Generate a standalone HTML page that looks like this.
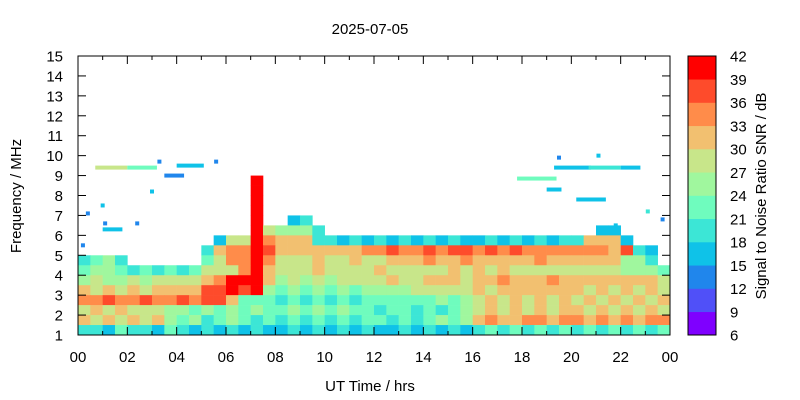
<!DOCTYPE html>
<html><head><meta charset="utf-8">
<style>
html,body{margin:0;padding:0;background:#fff;}
svg{display:block;font-family:"Liberation Sans",sans-serif;}
</style></head>
<body>
<svg id="chart" width="800" height="400">
  <text x="370" y="34" font-size="15" text-anchor="middle">2025-07-05</text>
  <g id="cells"></g>
  <g id="axes"></g>
  <text x="370" y="391" font-size="15" text-anchor="middle">UT Time / hrs</text>
  <text transform="translate(21,196) rotate(-90)" font-size="15" text-anchor="middle">Frequency / MHz</text>
  <g id="cbar"></g>
  <text transform="translate(766,196) rotate(-90)" font-size="15" text-anchor="middle">Signal to Noise Ratio SNR / dB</text>
</svg>
<script>
// color levels (SNR bins 6..42 step 3)
const levelColors = ["#7f00ff","#5050f8","#2086ec","#0fc2e8","#3ce6d6","#6ffcbe","#a0f79e","#c8e68a","#f2c070","#ff8c4a","#fe4b2b","#ff0000"];
const cbarTicks = [6,9,12,15,18,21,24,27,30,33,36,39,42];
const xTickLabels = ["00","02","04","06","08","10","12","14","16","18","20","22","00"];
const yTickLabels = [1,2,3,4,5,6,7,8,9,10,11,12,13,14,15];
// grid rows: lower frequency edge (MHz), each row 0.5 MHz; 48 half-hour columns (6 groups of 8)
const rowFreqs = [8.5,8,7.5,7,6.5,6,5.5,5,4.5,4,3.5,3,2.5,2,1.5,1];
const gridRows = [
["........","......b.","........","........","........","........"],
["........","......b.","........","........","........","........"],
["........","......b.","........","........","........","........"],
["........","......b.","........","........","........","........"],
["........","......b.",".34.....","........","........","........"],
["........","......b7","6664....","........","........","..33...."],
["........","...377b9","88844343","43434343","34343434","48883..."],
["........","..4899ba","88888889","9a99a9aa","9a9a9999","9998a43."],
["4564....","..5799b9","77787787","78889889","88888988","8888664."],
["56654545","457779b8","77787777","87777787","87877777","77776665"],
["67667677","7789bbb8","67676777","78778887","88988898","88888887"],
["87878788","88aabab6","56565656","66677777","87888888","87878787"],
["99a99a99","a9aa8555","45454545","55555656","78787878","78787878"],
["78787776","65656565","56565655","45545456","78787878","87878787"],
["87878786","56456545","45454545","54545656","89889989","98989899"],
["44354435","43434343","34343434","33434343","45454545","45454545"]
];
// sporadic segments
const segStart = [0.7, 2.0, 1.0, 4.0, 3.5, 19.3, 20.7, 22.0, 17.8, 19.0, 20.2];
const segEnd   = [2.0, 3.2, 1.8, 5.1, 4.3, 20.8, 22.0, 22.8, 19.4, 19.6, 21.4];
const segFreq  = [9.4, 9.4, 6.3, 9.5, 9.0, 9.4, 9.4, 9.4, 8.85, 8.3, 7.8];
const segLevel = [7, 5, 3, 3, 2, 3, 4, 3, 5, 3, 3];
// isolated points
const ptHour  = [0.2, 0.4, 1.0, 2.4, 3.3, 5.6, 19.5, 21.1, 21.8, 23.1, 23.7, 3.0, 1.1];
const ptFreq  = [5.5, 7.1, 7.5, 6.6, 9.7, 9.7, 9.9, 10.0, 6.5, 7.2, 6.8, 8.2, 6.6];
const ptLevel = [2, 2, 3, 2, 2, 2, 2, 3, 3, 4, 2, 3, 2];

const X0=78, X1=670, Y0=335, Y1=56;
const xs = h => X0 + h*(X1-X0)/24;
const ys = f => Y0 - (f-1)*(Y0-Y1)/14;
const NS="http://www.w3.org/2000/svg";
function mk(tag, attrs, parent){const e=document.createElementNS(NS,tag);for(const k in attrs)e.setAttribute(k,attrs[k]);parent.appendChild(e);return e;}
const lvl = ch => ch==='.'?-1:parseInt(ch,16);

const cells=document.getElementById('cells');
rowFreqs.forEach((f,ri)=>{
  const row=gridRows[ri].join('');
  for(let c=0;c<48;c++){
    const L=lvl(row[c]||'.');
    if(L<0||isNaN(L))continue;
    const x=xs(c/2), w=xs((c+1)/2)-x, y=ys(f+0.5), h=ys(f)-y;
    const r=mk('rect',{x:x,y:y,width:w+0.3,height:h+0.3,fill:levelColors[Math.min(L,11)]},cells);
    
    
  }
});
segStart.forEach((s,i)=>{
  const r=mk('rect',{x:xs(s),y:ys(segFreq[i])-2,width:xs(segEnd[i])-xs(s),height:4,fill:levelColors[segLevel[i]]},cells);
  
  
});
ptHour.forEach((h,i)=>{
  const r=mk('rect',{x:xs(h)-2,y:ys(ptFreq[i])-2,width:4,height:4,fill:levelColors[ptLevel[i]]},cells);
  
  
});

const ax=document.getElementById('axes');
mk('rect',{x:X0,y:Y1,width:X1-X0,height:Y0-Y1,fill:'none',stroke:'#000','stroke-width':1},ax);
for(let h=0;h<=24;h++){
  const len=(h%2===0)?8:4;
  mk('line',{x1:xs(h),x2:xs(h),y1:Y0,y2:Y0-len,stroke:'#000'},ax);
  mk('line',{x1:xs(h),x2:xs(h),y1:Y1,y2:Y1+len,stroke:'#000'},ax);
}
xTickLabels.forEach((t,i)=>{
  const e=mk('text',{x:xs(i*2),y:362,'font-size':15,'text-anchor':'middle'},ax);
  e.textContent=t;
  
  
});
yTickLabels.forEach(f=>{
  mk('line',{x1:X0,x2:X0+8,y1:ys(f),y2:ys(f),stroke:'#000'},ax);
  mk('line',{x1:X1,x2:X1-8,y1:ys(f),y2:ys(f),stroke:'#000'},ax);
  const e=mk('text',{x:63,y:ys(f)+5.5,'font-size':15,'text-anchor':'end'},ax);
  e.textContent=f;
  
  
});

const cb=document.getElementById('cbar');
const CX=688,CW=28;
const cy=v=>Y0-(v-6)*(Y0-Y1)/36;
levelColors.forEach((col,i)=>{
  const r=mk('rect',{x:CX,y:cy(cbarTicks[i+1]),width:CW,height:cy(cbarTicks[i])-cy(cbarTicks[i+1])+0.3,fill:col},cb);
  
  
});
mk('rect',{x:CX,y:Y1,width:CW,height:Y0-Y1,fill:'none',stroke:'#000'},cb);
cbarTicks.forEach(v=>{
  const e=mk('text',{x:730,y:cy(v)+5.5,'font-size':15},cb);
  e.textContent=v;
  
  
});
</script>
</body></html>
